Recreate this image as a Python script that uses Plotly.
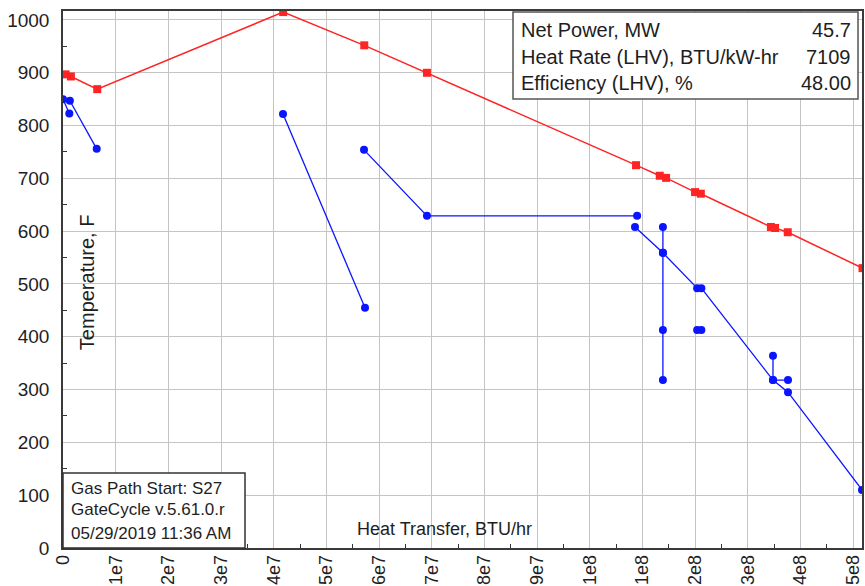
import plotly.graph_objects as go

# Gas-side temperature profile (heat transferred, BTU/hr vs temperature, F)
gas_q = [0.5e6, 1.5e6, 6.5e6, 4.18e7, 5.72e7, 6.91e7, 1.088e8, 1.133e8, 1.145e8,
         1.200e8, 1.211e8, 1.344e8, 1.352e8, 1.376e8, 1.518e8]
gas_t = [897, 893, 869, 1015, 952, 900, 725, 705, 701, 674, 671, 608, 606, 598, 530]

# Water/steam-side segments
hpsh_a_q = [0.0, 1.2e6]
hpsh_a_t = [850, 823]
hpsh_b_q = [1.3e6, 6.4e6]
hpsh_b_t = [847, 756]
rh_q = [4.177e7, 5.734e7]
rh_t = [822, 455]
hpevap_q = [5.715e7, 6.91e7, 1.09e8]
hpevap_t = [754, 629, 629]
econ_q = [1.086e8, 1.139e8, 1.204e8, 1.212e8, 1.348e8, 1.3765e8, 1.517e8]
econ_t = [608, 559, 492, 492, 318, 295, 110]
ip_q = [1.139e8, 1.139e8, 1.139e8, 1.139e8]
ip_t = [608, 559, 413, 318]
lp_q = [1.204e8, 1.212e8]
lp_t = [413, 413]
lpevap_q = [1.348e8, 1.348e8, 1.3765e8]
lpevap_t = [364, 318, 318]

# Axis ticks
x_tickvals = [i * 1e7 for i in range(16)]
x_ticktext = ["0", "1e7", "2e7", "3e7", "4e7", "5e7", "6e7", "7e7", "8e7", "9e7",
              "1e8", "1.1e8", "1.2e8", "1.3e8", "1.4e8", "1.5e8"]
y_tickvals = list(range(0, 1001, 100))

FONT = "Liberation Sans, Arial, sans-serif"
TXT = "#1e1e1e"
RED = "#ff2424"
BLUE = "#0a14ff"

fig = go.Figure()

fig.add_trace(go.Scatter(
    x=gas_q, y=gas_t, mode="lines+markers",
    line=dict(color=RED, width=1.5),
    marker=dict(symbol="square", size=8, color=RED),
    showlegend=False,
))

for q, t in [(hpsh_a_q, hpsh_a_t), (hpsh_b_q, hpsh_b_t), (rh_q, rh_t),
             (hpevap_q, hpevap_t), (econ_q, econ_t), (ip_q, ip_t),
             (lp_q, lp_t), (lpevap_q, lpevap_t)]:
    fig.add_trace(go.Scatter(
        x=q, y=t, mode="lines+markers",
        line=dict(color=BLUE, width=1.3),
        marker=dict(symbol="circle", size=8, color=BLUE),
        showlegend=False,
    ))

axis_common = dict(
    showgrid=True, gridcolor="#c4c4c4", gridwidth=1,
    showline=True, mirror=True, linecolor="#3a3a3a", linewidth=1.5,
    zeroline=False, ticks="", automargin=False,
)

fig.update_layout(
    width=865, height=586, autosize=False,
    margin=dict(l=63, r=3, t=11, b=38),
    paper_bgcolor="white", plot_bgcolor="white",
    font=dict(family=FONT, color=TXT),
    xaxis=dict(
        range=[0, 1.517e8], tickmode="array", tickvals=x_tickvals, ticktext=x_ticktext,
        tickangle=-90, ticklabelstandoff=-2,
        tickfont=dict(family=FONT, size=18, color=TXT),
        minor=dict(tickvals=[v + 5e6 for v in x_tickvals[:-1]], ticks="inside",
                   ticklen=4, tickcolor="#333", showgrid=False),
        **axis_common,
    ),
    yaxis=dict(
        range=[0, 1017], tickmode="array", tickvals=y_tickvals,
        ticklabelstandoff=8,
        tickfont=dict(family=FONT, size=19, color=TXT),
        minor=dict(tickvals=[v + 50 for v in y_tickvals[:-1]], ticks="inside",
                   ticklen=4, tickcolor="#333", showgrid=False),
        **axis_common,
    ),
)

# Performance summary box (top right)
fig.add_shape(type="rect", xref="paper", yref="paper",
              x0=0.5632, x1=0.995, y0=0.836, y1=0.998,
              fillcolor="white", line=dict(color="#555", width=1.5), layer="above")
summary_labels = ["Net Power, MW", "Heat Rate (LHV), BTU/kW-hr", "Efficiency (LHV), %"]
summary_values = ["45.7", "7109", "48.00"]
summary_y = [0.9646, 0.9143, 0.866]
for lab, val, yy in zip(summary_labels, summary_values, summary_y):
    fig.add_annotation(xref="paper", yref="paper", x=0.571, y=yy, text=lab,
                       showarrow=False, xanchor="left", yanchor="middle",
                       font=dict(family=FONT, size=20, color=TXT))
    fig.add_annotation(xref="paper", yref="paper", x=0.989, y=yy, text=val,
                       showarrow=False, xanchor="right", yanchor="middle",
                       font=dict(family=FONT, size=20, color=TXT))

# Run info box (bottom left)
fig.add_shape(type="rect", xref="paper", yref="paper",
              x0=0.0, x1=0.2278, y0=0.0, y1=0.1397,
              fillcolor="white", line=dict(color="#333", width=1.5), layer="above")
info_lines = ["Gas Path Start: S27", "GateCycle v.5.61.0.r", "05/29/2019 11:36 AM"]
info_y = [0.1117, 0.0708, 0.0279]
for line, yy in zip(info_lines, info_y):
    fig.add_annotation(xref="paper", yref="paper", x=0.0075, y=yy, text=line,
                       showarrow=False, xanchor="left", yanchor="middle",
                       font=dict(family=FONT, size=17, color=TXT))

# Axis captions drawn inside the plotting area
fig.add_annotation(xref="paper", yref="paper", x=0.478, y=0.035,
                   text="Heat Transfer, BTU/hr", showarrow=False,
                   xanchor="center", yanchor="middle",
                   font=dict(family=FONT, size=18, color=TXT))
fig.add_annotation(xref="paper", yref="paper", x=0.030, y=0.495,
                   text="Temperature, F", textangle=-90, showarrow=False,
                   xanchor="center", yanchor="middle",
                   font=dict(family=FONT, size=20, color=TXT))

fig.write_html("out.html")
